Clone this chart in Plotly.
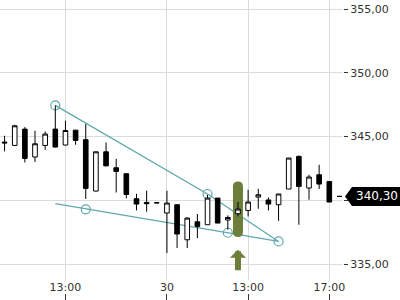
import plotly.graph_objects as go

# ---- data ----
times = ["29 10:00", "29 10:30", "29 11:00", "29 11:30", "29 12:00", "29 12:30",
         "29 13:00", "29 13:30", "29 14:00", "29 14:30", "29 15:00", "29 15:30",
         "29 16:00", "29 16:30", "29 17:00", "29 17:30",
         "30 09:00", "30 09:30", "30 10:00", "30 10:30", "30 11:00", "30 11:30",
         "30 12:00", "30 12:30", "30 13:00", "30 13:30", "30 14:00", "30 14:30",
         "30 15:00", "30 15:30", "30 16:00", "30 16:30", "30 17:00", "30 17:30"]
opens = [344.56, 344.30, 345.58, 343.39, 344.30, 345.58, 344.33, 345.50, 344.75, 340.72,
         343.80, 342.55, 342.08, 340.12, 339.83, 339.80,
         339.00, 339.65, 336.90, 338.31, 338.08, 340.17, 338.45, 338.94, 339.20, 340.25,
         340.02, 339.65, 340.88, 343.44, 340.96, 342.00, 341.47, 340.30]
highs = [345.06, 345.92, 345.74, 345.45, 345.40, 347.44, 346.24, 345.50, 345.98, 343.80,
         344.53, 343.25, 342.08, 340.51, 340.75, 339.80,
         340.75, 339.65, 338.68, 338.92, 340.43, 340.17, 338.81, 339.86, 340.82, 340.90,
         340.22, 340.49, 343.31, 343.51, 342.00, 342.78, 341.47, 340.30]
lows = [343.83, 344.27, 342.96, 343.00, 343.96, 344.15, 344.30, 344.35, 340.10, 340.70,
        342.65, 340.61, 340.14, 339.20, 339.10, 339.80,
        335.86, 336.25, 336.25, 337.04, 338.08, 338.21, 337.69, 338.73, 338.73, 339.33,
        339.20, 338.39, 340.88, 338.08, 340.04, 340.88, 339.86, 340.30]
closes = [344.50, 345.84, 343.28, 344.43, 345.19, 344.17, 345.47, 344.69, 340.93, 343.80,
          342.70, 342.26, 340.45, 339.70, 339.73, 339.80,
          339.78, 337.35, 338.60, 337.95, 340.17, 338.21, 338.65, 339.31, 339.86, 340.43,
          339.70, 340.49, 343.31, 341.08, 341.82, 341.27, 339.86, 340.30]

tick_times = ["29 13:00", "30 09:00", "30 13:00", "30 17:00"]
tick_text = ["13:00", "30", "13:00", "17:00"]
price_ticks = [335, 340, 345, 350, 355]

# drawn trend lines (candle index, price)
upper_x = [5, 20, 27]
upper_y = [347.44, 340.49, 336.77]
lower_x = [5, 27]
lower_y = [339.73, 336.77]
anchor_x = [5, 8, 20, 22, 27]
anchor_y = [347.44, 339.29, 340.49, 337.45, 336.77]

# signal highlight
signal_idx = 23
signal_top = 341.47
signal_bottom = 337.11
arrow_tip = 336.12

# ---- figure ----
xs = list(range(len(times)))
tickvals = [times.index(t) for t in tick_times]

fig_h = 300
plot_bottom_px = 20  # space below plot area for time labels
y_range = [333.745, 355.706]
plot_h = fig_h - plot_bottom_px
ppu = plot_h / (y_range[1] - y_range[0])

teal = "#5fa8ae"
olive = "rgb(108,126,58)"

fig = go.Figure()
fig.add_trace(go.Candlestick(
    x=xs, open=opens, high=highs, low=lows, close=closes,
    increasing=dict(line=dict(color="black", width=1), fillcolor="white"),
    decreasing=dict(line=dict(color="black", width=1), fillcolor="black"),
    whiskerwidth=0, hoverinfo="skip", showlegend=False,
))

shapes = []
for i in range(len(upper_x) - 1):
    shapes.append(dict(type="line", xref="x", yref="y", layer="between",
                       x0=upper_x[i], y0=upper_y[i], x1=upper_x[i + 1], y1=upper_y[i + 1],
                       line=dict(color=teal, width=1.3)))
for i in range(len(lower_x) - 1):
    shapes.append(dict(type="line", xref="x", yref="y", layer="between",
                       x0=lower_x[i], y0=lower_y[i], x1=lower_x[i + 1], y1=lower_y[i + 1],
                       line=dict(color=teal, width=1.3)))
for cx, cy in zip(anchor_x, anchor_y):
    shapes.append(dict(type="circle", xref="x", yref="y", layer="between",
                       xsizemode="pixel", ysizemode="pixel", xanchor=cx, yanchor=cy,
                       x0=-4.5, x1=4.5, y0=-4.5, y1=4.5,
                       line=dict(color=teal, width=1.2), fillcolor="rgba(255,255,255,0)"))
r = 5 / ppu
yt, yb = signal_top, signal_bottom
bar_path = (f"M-5,{yt - r} Q-5,{yt} 0,{yt} Q5,{yt} 5,{yt - r} "
            f"L5,{yb + r} Q5,{yb} 0,{yb} Q-5,{yb} -5,{yb + r} Z")
shapes.append(dict(type="path", xref="x", yref="y", layer="between",
                   xsizemode="pixel", xanchor=signal_idx, path=bar_path,
                   fillcolor=olive, line=dict(width=0)))
# last price tag
shapes.append(dict(type="path", xref="paper", yref="y", layer="above",
                   xsizemode="pixel", ysizemode="pixel", xanchor=1, yanchor=closes[-1],
                   path="M2,0 L9,-9.5 L57,-9.5 L57,9.5 L9,9.5 Z",
                   fillcolor="black", line=dict(width=0)))

annotations = [
    dict(x=signal_idx, y=arrow_tip, xref="x", yref="y", ax=0, ay=22, text="",
         showarrow=True, arrowhead=1, arrowwidth=6, arrowsize=0.45, arrowcolor=olive,
         standoff=0),
    dict(x=1, y=closes[-1], xref="paper", yref="y", xanchor="left", yanchor="middle",
         xshift=11, text=f"{closes[-1]:.2f}".replace(".", ","), showarrow=False,
         font=dict(color="white", size=12, family="DejaVu Sans")),
]

ticktext_y = [("" if v == 340 else f"{v:.2f}".replace(".", ",")) for v in price_ticks]

fig.update_layout(
    width=400, height=fig_h,
    margin=dict(l=0, r=57, t=0, b=0, pad=0),
    paper_bgcolor="white", plot_bgcolor="white",
    font=dict(family="DejaVu Sans", size=11, color="#333"),
    showlegend=False,
    boxgap=0.35,
    shapes=shapes,
    annotations=annotations,
    xaxis=dict(range=[-0.45, 33.35], tickvals=tickvals, ticktext=tick_text,
               anchor="free", position=0,
               ticks="inside", ticklen=6, tickcolor="#333", tickwidth=1,
               ticklabelposition="inside", ticklabeloverflow="allow",
               showgrid=True, gridcolor="#dcdcdc",
               gridwidth=1, zeroline=False, showline=False,
               rangeslider=dict(visible=False),
               tickfont=dict(size=11, color="#333")),
    yaxis=dict(side="right", range=y_range, domain=[plot_bottom_px / fig_h, 1],
               tickvals=price_ticks, ticktext=ticktext_y,
               ticks="outside", ticklen=4, tickcolor="#333", showgrid=True,
               gridcolor="#dcdcdc", gridwidth=1, zeroline=False, showline=False,
               tickfont=dict(size=11, color="#333")),
)

fig.write_html("out.html")
